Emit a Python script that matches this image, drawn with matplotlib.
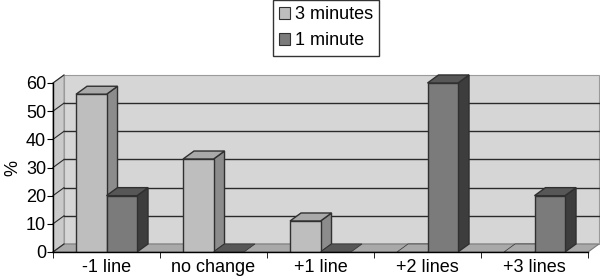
import numpy as np
import matplotlib.pyplot as plt
from matplotlib.patches import Polygon

# data
categories = ["-1 line", "no change", "+1 line", "+2 lines", "+3 lines"]
series_names = ["3 minutes", "1 minute"]
three_minutes = [56, 33, 11, 0, 0]
one_minute = [20, 0, 0, 60, 20]

plt.rcParams["font.family"] = ["Liberation Sans", "DejaVu Sans"]

# face colours: front, side, top
colors = {
    "3 minutes": ("#bebebe", "#8c8c8c", "#a9a9a9"),
    "1 minute": ("#7b7b7b", "#3d3d3d", "#575757"),
}
edge = "#303030"
fs = 13

fig = plt.figure(figsize=(6.0, 2.79), dpi=100)
ax = fig.add_axes([53 / 600, 27 / 279, 535 / 600, 169 / 279])

n = len(categories)
ymax = 60
dx = 0.103  # depth offset in category units
dy = 2.85   # depth offset in value units

ax.set_xlim(0, n)
ax.set_ylim(0, ymax)
for s in ax.spines.values():
    s.set_visible(False)

# back wall, left wall, floor
ax.add_patch(Polygon([(dx, dy), (n + dx, dy), (n + dx, ymax + dy), (dx, ymax + dy)],
                     closed=True, fc="#d6d6d6", ec="#9a9a9a", lw=0.8, clip_on=False, zorder=0))
ax.add_patch(Polygon([(0, 0), (dx, dy), (dx, ymax + dy), (0, ymax)],
                     closed=True, fc="#cacaca", ec="#9a9a9a", lw=0.8, clip_on=False, zorder=0))
ax.add_patch(Polygon([(0, 0), (n, 0), (n + dx, dy), (dx, dy)],
                     closed=True, fc="#a9a9a9", ec="#7a7a7a", lw=0.8, clip_on=False, zorder=0.5))

# gridlines on back and left wall
yticks = np.arange(0, ymax + 1, 10)
for v in yticks[1:-1]:
    ax.plot([dx, n + dx], [v + dy, v + dy], color="#2a2a2a", lw=1.0, zorder=0.6, clip_on=False)
for v in yticks:
    ax.plot([0, dx], [v, v + dy], color="#2a2a2a", lw=0.8, zorder=0.6, clip_on=False)

# 3d bars
width = 0.285
values = [three_minutes, one_minute]
for i in range(n):
    for j, name in enumerate(series_names):
        front, side, top = colors[name]
        x0 = i + 0.5 - width + j * width
        x1 = x0 + width
        h = values[j][i]
        z = 2 + j
        if h > 0:
            ax.bar(x0, h, width=width, align="edge", color=front, edgecolor=edge,
                   lw=1.0, zorder=z + 0.1)
            ax.add_patch(Polygon([(x1, 0), (x1 + dx, dy), (x1 + dx, h + dy), (x1, h)],
                                 closed=True, fc=side, ec=edge, lw=1.0, zorder=z, clip_on=False))
        ax.add_patch(Polygon([(x0, h), (x1, h), (x1 + dx, h + dy), (x0 + dx, h + dy)],
                             closed=True, fc=top, ec=edge, lw=1.0 if h > 0 else 0.5,
                             zorder=z + 0.05, clip_on=False))

# axes lines
ax.plot([0, 0], [0, ymax], color="black", lw=1.0, clip_on=False, zorder=5)
ax.plot([0, n], [0, 0], color="black", lw=1.0, clip_on=False, zorder=5)

ax.set_yticks(yticks)
ax.set_yticklabels([str(v) for v in yticks], fontsize=fs)
ax.set_xticks(np.arange(n + 1), minor=True)
ax.set_xticks(np.arange(n) + 0.5)
ax.set_xticklabels(categories, fontsize=fs)
ax.tick_params(axis="x", which="major", length=0, pad=5)
ax.tick_params(axis="x", which="minor", length=4, direction="out", color="black")
ax.tick_params(axis="y", length=4, direction="out", color="black", pad=1)
ax.set_ylabel("%", fontsize=fs, labelpad=3)

# legend
handles = [plt.Rectangle((0, 0), 1, 1, fc=colors[nm][0], ec=edge, lw=0.8) for nm in series_names]
fig.legend(handles, series_names, loc="upper left", bbox_to_anchor=(273 / 600, 1.0),
           fontsize=fs, frameon=True, fancybox=False, edgecolor="black",
           handlelength=0.6, handleheight=0.6, handletextpad=0.25,
           borderpad=0.35, labelspacing=0.5, borderaxespad=0)

fig.savefig("out.png", dpi=100, facecolor="white")
